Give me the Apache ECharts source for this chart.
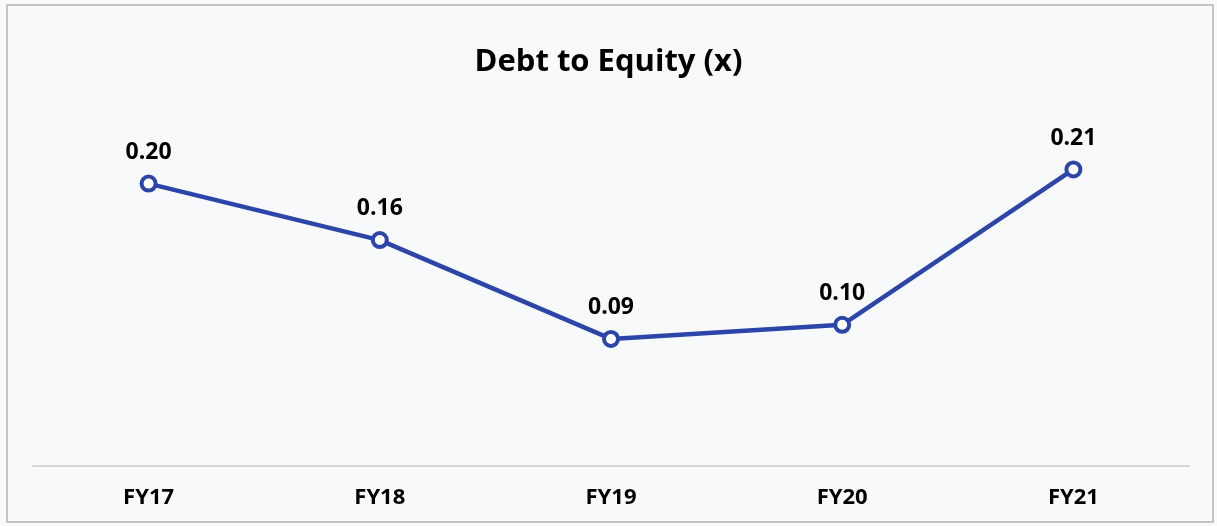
<!DOCTYPE html>
<html>
<head>
<meta charset="utf-8">
<script src="https://cdn.jsdelivr.net/npm/echarts@6/dist/echarts.min.js"></script>
<style>
  html, body { margin: 0; padding: 0; background: #ffffff; }
  #main { width: 1217px; height: 526px; }
</style>
</head>
<body>
<div id="main"></div>
<script>
// debt to equity chart
const years = ['FY17', 'FY18', 'FY19', 'FY20', 'FY21']
const debtToEquity = [0.20, 0.16, 0.09, 0.10, 0.21]

let chart = echarts.init(document.getElementById('main'))

let option = {
  backgroundColor: '#f8f9fb',
  title: {
    text: 'Debt to Equity (x)',
    left: 'center',
    top: 42,
    textStyle: {
      fontFamily: 'Open Sans',
      fontWeight: 'bold',
      fontSize: 31,
      color: '#000'
    }
  },
  graphic: [
    {
      type: 'rect',
      shape: { x: 7, y: 5, width: 1206, height: 517 },
      style: { fill: 'none', stroke: '#c4c4c4', lineWidth: 2 },
      silent: true
    }
  ],
  grid: {
    left: 33,
    right: 28,
    top: 113,
    bottom: 60
  },
  xAxis: {
    type: 'category',
    data: years,
    boundaryGap: true,
    axisLine: { lineStyle: { color: '#d6d6d6', width: 2 } },
    axisTick: { show: false },
    axisLabel: {
      margin: 21,
      fontFamily: 'Open Sans',
      fontWeight: 'bold',
      fontSize: 22,
      color: '#000'
    }
  },
  yAxis: {
    type: 'value',
    min: 0,
    max: 0.25,
    show: false,
    splitLine: { show: false }
  },
  series: [
    {
      type: 'line',
      data: debtToEquity,
      symbol: 'circle',
      symbolSize: 14,
      showAllSymbol: true,
      lineStyle: { color: '#2c45a8', width: 4.5 },
      itemStyle: { color: '#ffffff', borderColor: '#2c45a8', borderWidth: 4 },
      label: {
        show: true,
        position: 'top',
        distance: 11,
        formatter: p => p.value.toFixed(2),
        fontFamily: 'Open Sans',
        fontWeight: 'bold',
        fontSize: 23,
        color: '#000'
      },
      silent: true,
      animation: false
    }
  ]
}

chart.setOption(option)
</script>
</body>
</html>
